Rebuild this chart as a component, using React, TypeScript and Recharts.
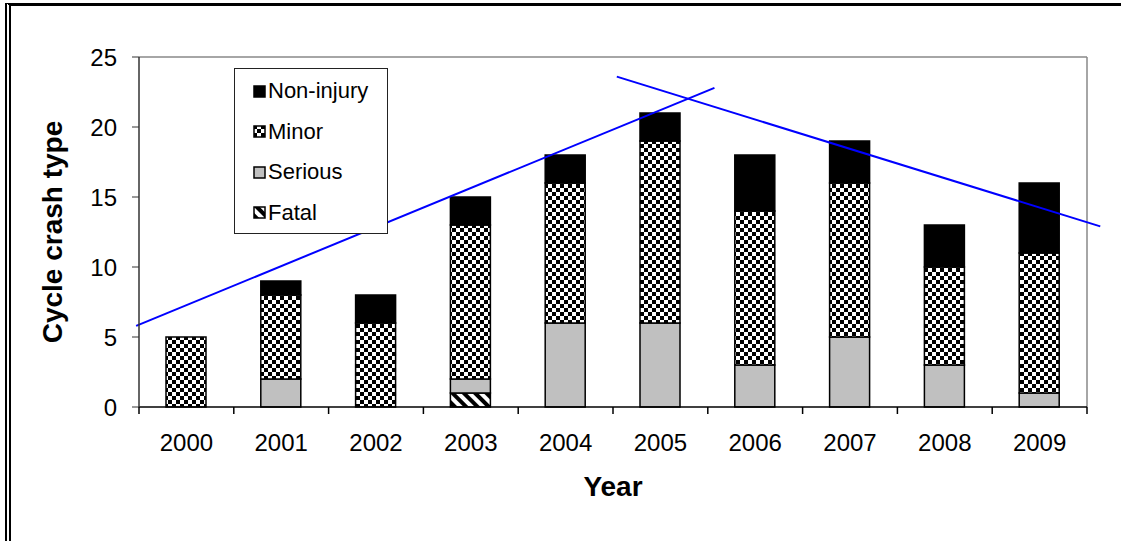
import { BarChart, Bar, XAxis, YAxis, ReferenceLine, Legend } from "recharts";

const years = ["2000", "2001", "2002", "2003", "2004", "2005", "2006", "2007", "2008", "2009"];
const fatal = [0, 0, 0, 1, 0, 0, 0, 0, 0, 0];
const serious = [0, 2, 0, 1, 6, 6, 3, 5, 3, 1];
const minor = [5, 6, 6, 11, 10, 13, 11, 11, 7, 10];
const nonInjury = [0, 1, 2, 2, 2, 2, 4, 3, 3, 5];

const yTicks = [0, 5, 10, 15, 20, 25];

// hand-drawn trend lines, x in year slots (0 = left edge of 2000)
const trendUp = [
  { x: -0.03, y: 5.8 },
  { x: 6.07, y: 22.8 },
];
const trendDown = [
  { x: 5.04, y: 23.6 },
  { x: 10.14, y: 12.9 },
];

const series = [
  { key: "fatal", name: "Fatal", fill: "url(#fatalStripes)" },
  { key: "serious", name: "Serious", fill: "#c0c0c0" },
  { key: "minor", name: "Minor", fill: "url(#checker)" },
  { key: "nonInjury", name: "Non-injury", fill: "#000000" },
];

const data = years.map((year, i) => ({
  year,
  fatal: fatal[i],
  serious: serious[i],
  minor: minor[i],
  nonInjury: nonInjury[i],
}));

const font = "Arial, 'Liberation Sans', sans-serif";
const TICK_LEN = 7;
const TICK_GAP = 20;

// year label plus the small tick marks on the slot boundaries
function YearTick(props: any) {
  const { x, y, payload, index } = props;
  const half = payload.offset || 0;
  const axisY = y - TICK_LEN - TICK_GAP;
  const last = index === years.length - 1;
  return (
    <g>
      <line x1={x - half} x2={x - half} y1={axisY} y2={axisY + TICK_LEN} stroke="#000" strokeWidth={1.5} />
      {last && (
        <line x1={x + half} x2={x + half} y1={axisY} y2={axisY + TICK_LEN} stroke="#000" strokeWidth={1.5} />
      )}
      <text x={x} y={y} dy="0.71em" textAnchor="middle" fill="#000" fontSize={24} fontFamily={font}>
        {payload.value}
      </text>
    </g>
  );
}

function LegendBox() {
  const items = [...series].reverse();
  return (
    <div
      style={{
        width: 152,
        height: 162,
        border: "1px solid #222",
        background: "#fff",
        paddingTop: 2,
        boxSizing: "content-box",
        fontFamily: font,
        fontSize: 22,
        color: "#000",
      }}
    >
      {items.map((s) => (
        <div
          key={s.key}
          style={{ height: 40.5, display: "flex", alignItems: "center", paddingLeft: 18 }}
        >
          <svg width={13} height={13} style={{ marginRight: 2 }}>
            <rect x={1} y={1} width={11} height={11} fill={s.fill} stroke="#000" strokeWidth={1.5} />
          </svg>
          <span>{s.name}</span>
        </div>
      ))}
    </div>
  );
}

export default function App() {
  return (
    <div style={{ position: "absolute", left: 0, top: 0, width: 1121, height: 541, background: "#fff" }}>
      <div
        style={{
          position: "absolute",
          left: 5,
          top: 3,
          right: 0,
          bottom: 0,
          borderTop: "3px solid #000",
          borderLeft: "6px double #000",
        }}
      />
      <div style={{ position: "absolute", left: 0, top: 0 }}>
        <BarChart
          width={1121}
          height={541}
          data={data}
          margin={{ top: 57, right: 34, left: 0, bottom: 0 }}
          barSize={40}
        >
          <defs>
            <pattern id="checker" width={8} height={8} patternUnits="userSpaceOnUse">
              <rect width={8} height={8} fill="#fff" />
              <rect width={4} height={4} fill="#000" />
              <rect x={4} y={4} width={4} height={4} fill="#000" />
            </pattern>
            <pattern
              id="fatalStripes"
              width={8}
              height={8}
              patternUnits="userSpaceOnUse"
              patternTransform="rotate(-45)"
            >
              <rect width={8} height={8} fill="#fff" />
              <rect width={4} height={8} fill="#000" />
            </pattern>
          </defs>
          {/* continuous slot axis for the trend lines and the plot frame */}
          <XAxis
            xAxisId="slots"
            dataKey="slot"
            type="number"
            domain={[0, 10]}
            allowDataOverflow
            height={0}
            hide
          />
          <XAxis
            xAxisId="year"
            dataKey="year"
            height={134}
            tickLine={false}
            tickSize={TICK_LEN}
            tickMargin={TICK_GAP}
            axisLine={{ stroke: "#000", strokeWidth: 1.5 }}
            tick={<YearTick />}
            label={{
              value: "Year",
              position: "insideTop",
              offset: 69,
              fill: "#000",
              fontSize: 28,
              fontWeight: "bold",
              fontFamily: font,
            }}
          />
          <YAxis
            domain={[0, 25]}
            ticks={yTicks}
            width={139}
            tickSize={7}
            tickMargin={15}
            stroke="#333"
            axisLine={{ stroke: "#333", strokeWidth: 1.5 }}
            tick={{ fill: "#000", fontSize: 24, fontFamily: font }}
            label={{
              value: "Cycle crash type",
              angle: -90,
              position: "insideLeft",
              offset: 52,
              fill: "#000",
              fontSize: 28,
              fontWeight: "bold",
              fontFamily: font,
              style: { textAnchor: "middle" },
            }}
          />
          <ReferenceLine y={25} xAxisId="slots" stroke="#888" strokeWidth={1.5} />
          <ReferenceLine x={10} xAxisId="slots" stroke="#888" strokeWidth={1.5} />
          {series.map((s) => (
            <Bar
              key={s.key}
              xAxisId="year"
              dataKey={s.key}
              name={s.name}
              stackId="crash"
              fill={s.fill}
              stroke="#000"
              strokeWidth={1.5}
              isAnimationActive={false}
            />
          ))}
          <ReferenceLine
            xAxisId="slots"
            segment={trendUp}
            stroke="#0000ff"
            strokeWidth={2}
            ifOverflow="visible"
          />
          <ReferenceLine
            xAxisId="slots"
            segment={trendDown}
            stroke="#0000ff"
            strokeWidth={2}
            ifOverflow="visible"
          />
          <Legend
            layout="vertical"
            align="center"
            verticalAlign="middle"
            content={() => <LegendBox />}
            wrapperStyle={{ left: 234, top: 68, width: 154 }}
          />
        </BarChart>
      </div>
    </div>
  );
}
